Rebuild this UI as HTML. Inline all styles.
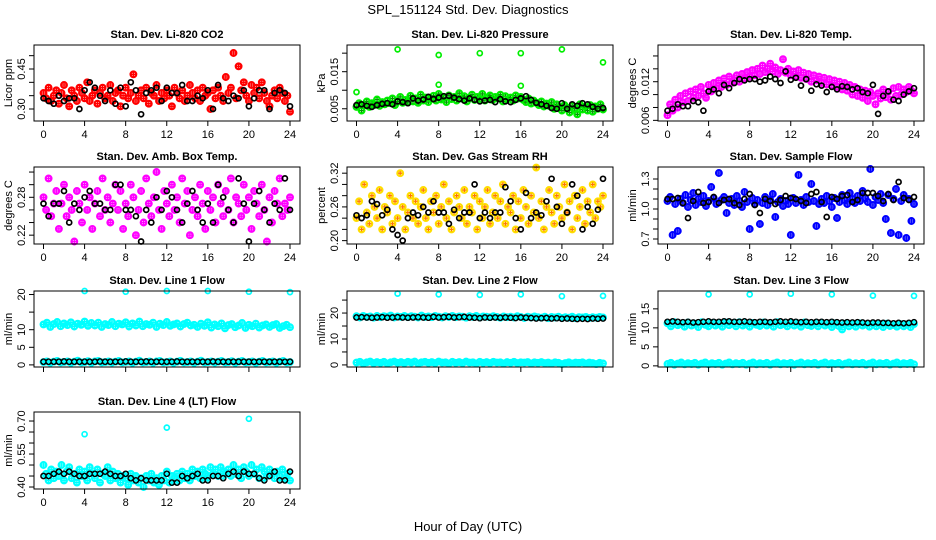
<!DOCTYPE html>
<html><head><meta charset="utf-8"><style>
html,body{margin:0;padding:0;background:#fff;}
svg{display:block;font-family:"Liberation Sans",Arial,sans-serif;}
</style></head><body>
<svg id="chart" width="936" height="540" viewBox="0 0 936 540" xmlns="http://www.w3.org/2000/svg">
<rect x="0" y="0" width="936" height="540" fill="#fff"/>
<text x="468" y="14" text-anchor="middle" font-size="13">SPL_151124  Std. Dev. Diagnostics</text>
<text x="468" y="531" text-anchor="middle" font-size="13">Hour of Day (UTC)</text>
</svg>
<script>
// ---- data ----
const co2 = [0.36,0.34,0.38,0.33,0.35,0.37,0.32,0.36,0.39,0.34,0.31,0.37,0.35,0.33,0.38,0.36,0.34,0.40,0.33,0.35,0.37,0.32,0.36,0.38,0.34,0.35,0.39,0.33,0.36,0.37,0.31,0.35,0.38,0.34,0.36,0.43,0.33,0.35,0.37,0.34,0.38,0.32,0.36,0.35,0.39,0.33,0.36,0.34,0.37,0.35,0.31,0.38,0.36,0.34,0.37,0.33,0.35,0.39,0.36,0.34,0.37,0.33,0.38,0.35,0.36,0.30,0.37,0.34,0.38,0.35,0.33,0.42,0.36,0.38,0.51,0.34,0.46,0.37,0.40,0.35,0.33,0.39,0.36,0.38,0.34,0.40,0.36,0.33,0.31,0.35,0.37,0.34,0.38,0.36,0.33,0.35,0.29];
const co2Black = [0.34,0.33,0.32,0.35,0.33,0.34,0.34,0.30,0.37,0.40,0.38,0.35,0.33,0.37,0.32,0.38,0.31,0.40,0.37,0.28,0.36,0.37,0.38,0.33,0.38,0.36,0.36,0.39,0.33,0.33,0.35,0.34,0.37,0.30,0.39,0.34,0.33,0.35,0.34,0.37,0.31,0.34,0.37,0.37,0.30,0.36,0.37,0.36,0.31];
const pres = [0.0055,0.0065,0.0045,0.006,0.007,0.0055,0.0065,0.006,0.0075,0.0058,0.0068,0.0062,0.0072,0.0065,0.0078,0.006,0.007,0.0082,0.0066,0.0074,0.0068,0.0085,0.007,0.0078,0.0066,0.0088,0.0072,0.008,0.0068,0.0076,0.0085,0.0072,0.009,0.0075,0.008,0.0068,0.0086,0.0076,0.0082,0.0072,0.0092,0.0078,0.0084,0.007,0.008,0.0088,0.0074,0.0082,0.0076,0.009,0.0072,0.008,0.0086,0.0074,0.0082,0.0078,0.0088,0.007,0.0084,0.0076,0.008,0.0072,0.0086,0.0078,0.0082,0.0074,0.0068,0.0078,0.0064,0.0072,0.0066,0.006,0.007,0.0056,0.0064,0.0058,0.0068,0.005,0.0062,0.0055,0.0045,0.006,0.0052,0.004,0.0058,0.005,0.0035,0.0062,0.0048,0.0055,0.0045,0.006,0.0042,0.0056,0.005,0.0062,0.0048];
const presBlack = [0.006,0.0062,0.0058,0.0055,0.006,0.0063,0.0065,0.0062,0.007,0.0068,0.0065,0.0078,0.0072,0.0075,0.0082,0.0076,0.008,0.0084,0.0085,0.008,0.0076,0.0072,0.0078,0.0074,0.007,0.0072,0.0074,0.0068,0.0076,0.007,0.0068,0.0074,0.0078,0.0084,0.0074,0.0066,0.0062,0.0058,0.0052,0.005,0.0065,0.005,0.0062,0.0058,0.0065,0.0062,0.0055,0.005,0.0052];
const presOutHours = [0,4,8,8,12,16,16,20,24];
const presOut = [0.0095,0.021,0.0195,0.0115,0.020,0.020,0.0112,0.021,0.0175];
const temp = [0.0068,0.0085,0.0075,0.0092,0.0080,0.0098,0.0088,0.0102,0.0090,0.0105,0.0095,0.0108,0.0098,0.0112,0.0102,0.0095,0.0115,0.0105,0.0118,0.0110,0.0122,0.0112,0.0125,0.0115,0.0128,0.0118,0.0122,0.0130,0.0120,0.0132,0.0125,0.0135,0.0128,0.0138,0.0130,0.0140,0.0132,0.0145,0.0135,0.0140,0.0148,0.0136,0.0142,0.0132,0.0138,0.0155,0.0134,0.0140,0.0130,0.0136,0.0128,0.0138,0.0126,0.0134,0.0124,0.0132,0.0120,0.0130,0.0122,0.0128,0.0118,0.0126,0.0116,0.0124,0.0114,0.0122,0.0112,0.0120,0.0108,0.0118,0.0106,0.0115,0.0100,0.0112,0.0098,0.0108,0.0095,0.0106,0.0090,0.0104,0.0098,0.0085,0.0102,0.0094,0.0108,0.0096,0.0104,0.0092,0.0110,0.0098,0.0112,0.0100,0.0108,0.0104,0.0112,0.0106,0.0102];
const tempBlack = [0.0075,0.0078,0.0085,0.0082,0.0082,0.0090,0.0088,0.0075,0.0105,0.0108,0.0102,0.0115,0.0110,0.0118,0.0124,0.0122,0.0124,0.0124,0.0120,0.0122,0.0128,0.0124,0.0118,0.0136,0.0123,0.0126,0.0114,0.0124,0.0106,0.0116,0.0114,0.0104,0.0112,0.0108,0.0113,0.0112,0.0108,0.0110,0.0104,0.0102,0.0115,0.0070,0.0098,0.0105,0.0092,0.0090,0.0100,0.0105,0.0110];
const amb = [0.28,0.26,0.31,0.25,0.27,0.29,0.23,0.27,0.30,0.25,0.28,0.26,0.21,0.29,0.27,0.24,0.30,0.26,0.28,0.23,0.27,0.29,0.25,0.31,0.26,0.28,0.24,0.27,0.30,0.26,0.29,0.23,0.27,0.25,0.30,0.28,0.22,0.26,0.29,0.24,0.31,0.27,0.25,0.28,0.32,0.26,0.23,0.29,0.27,0.25,0.30,0.26,0.28,0.24,0.31,0.27,0.29,0.22,0.26,0.28,0.25,0.30,0.27,0.23,0.29,0.26,0.28,0.24,0.30,0.27,0.25,0.29,0.26,0.31,0.24,0.28,0.27,0.25,0.30,0.26,0.28,0.23,0.29,0.27,0.25,0.30,0.26,0.21,0.28,0.24,0.29,0.27,0.31,0.25,0.27,0.26,0.28];
const ambBlack = [0.27,0.25,0.27,0.27,0.29,0.24,0.27,0.26,0.28,0.29,0.27,0.27,0.26,0.26,0.30,0.30,0.26,0.26,0.25,0.21,0.26,0.24,0.28,0.26,0.29,0.28,0.26,0.24,0.27,0.29,0.26,0.24,0.27,0.24,0.30,0.28,0.26,0.24,0.31,0.27,0.21,0.27,0.29,0.26,0.24,0.27,0.26,0.31,0.26];
const rh = [0.24,0.27,0.22,0.30,0.25,0.23,0.28,0.26,0.24,0.29,0.22,0.26,0.25,0.28,0.23,0.27,0.24,0.32,0.26,0.22,0.25,0.28,0.24,0.27,0.23,0.26,0.29,0.24,0.22,0.27,0.25,0.28,0.23,0.26,0.30,0.24,0.27,0.22,0.25,0.28,0.26,0.24,0.29,0.23,0.26,0.25,0.28,0.22,0.27,0.24,0.26,0.29,0.23,0.25,0.28,0.24,0.27,0.30,0.23,0.26,0.25,0.28,0.22,0.27,0.24,0.29,0.26,0.23,0.28,0.25,0.33,0.24,0.27,0.22,0.26,0.29,0.25,0.23,0.28,0.26,0.24,0.30,0.25,0.27,0.22,0.28,0.24,0.26,0.29,0.23,0.27,0.25,0.30,0.24,0.27,0.26,0.28];
const rhBlack = [0.245,0.24,0.245,0.27,0.265,0.245,0.255,0.22,0.21,0.20,0.24,0.25,0.245,0.26,0.25,0.27,0.25,0.25,0.23,0.255,0.24,0.25,0.25,0.30,0.24,0.25,0.24,0.25,0.25,0.295,0.27,0.24,0.22,0.285,0.24,0.25,0.245,0.27,0.31,0.26,0.23,0.25,0.30,0.28,0.22,0.26,0.23,0.255,0.31];
const sf = [1.08,1.12,0.74,1.05,0.78,1.10,1.06,1.14,1.02,1.09,1.16,1.04,1.10,1.07,1.13,1.03,1.08,1.22,1.11,1.05,1.36,1.09,1.12,0.96,1.06,1.10,1.04,1.13,1.08,1.02,1.17,1.07,0.80,1.11,1.05,1.09,0.85,1.06,1.12,1.04,1.09,1.15,0.92,1.07,1.10,1.03,1.08,1.05,0.74,1.11,1.06,1.34,1.09,1.04,1.12,1.07,1.25,1.08,0.83,1.05,1.10,1.06,1.13,1.08,1.02,1.11,0.91,1.07,1.14,1.09,1.05,1.16,1.10,1.06,1.13,1.08,1.18,1.11,1.07,1.40,1.04,1.12,1.09,1.15,1.06,0.90,1.14,0.76,1.10,1.20,0.74,1.08,1.14,0.71,1.10,0.88,1.05];
const sfBlack = [1.10,1.10,1.11,1.06,0.91,1.08,1.17,1.06,1.07,1.12,1.06,1.09,1.10,1.06,1.04,1.10,1.15,1.04,0.96,1.10,1.08,1.05,1.09,1.13,1.11,1.10,1.08,1.06,1.15,1.17,1.07,0.92,1.12,1.10,1.13,1.14,1.07,1.09,1.16,1.16,1.16,1.13,1.08,1.15,1.09,1.27,1.11,1.09,1.12];
const l1Hi = [11.5,12.0,10.8,11.6,12.2,11.0,11.8,11.3,12.1,10.9,11.7,11.4,12.3,11.1,11.9,11.2,12.0,10.8,11.6,11.3,12.2,11.0,11.7,11.5,12.1,10.9,11.8,11.2,12.3,11.0,11.6,11.4,12.0,10.8,11.7,11.3,12.2,11.1,11.5,11.8,10.9,11.6,12.0,11.2,11.4,10.8,11.7,11.1,12.1,10.6,11.5,11.0,11.8,10.4,11.3,11.6,10.7,11.2,11.9,10.5,11.4,11.0,11.7,10.6,11.2,11.5,10.8,11.3,11.6,10.5,11.0,11.4,10.7];
const l1Lo = [0.8,1.0,0.6,0.9,1.1,0.7,0.85,1.0,0.6,0.9,1.2,0.7,0.8,1.05,0.6,0.95,1.1,0.7,0.8,1.0,0.65,0.9,1.1,0.7,0.85,1.0,0.6,0.9,1.2,0.7,0.8,1.0,0.6,0.95,1.1,0.7,0.8,1.0,0.6,0.9,1.15,0.7,0.8,1.0,0.6,0.9,1.2,0.7,0.8,1.0,0.65,0.9,1.1,0.7,0.8,1.05,0.6,0.9,1.1,0.7,0.8,1.0,0.6,0.9,1.1,0.7,0.85,1.0,0.6,0.9,1.1,0.7,0.8];
const l1Black = [0.9,0.9,0.9,0.9,0.95,0.9,0.9,0.9,0.92,0.9,0.9,0.95,0.9,0.9,0.9,0.92,0.95,0.9,0.9,0.9,0.95,0.9,0.92,0.9,0.9,0.9,0.95,0.9,0.9,0.92,0.9,0.9,0.9,0.95,0.9,0.9,0.9,0.92,0.9,0.9,0.9,0.88,0.9,0.9,0.88,0.9,0.9,0.88,0.9];
const outHours = [4,8,12,16,20,24];
const l1Out = [21.0,20.8,21.0,21.0,20.8,20.7];
const l2Hi = [18.8,18.3,18.9,18.5,18.7,18.2,18.9,18.4,18.8,18.6,19.0,18.3,18.7,18.5,18.9,18.4,18.8,18.6,18.3,19.0,18.5,18.7,18.4,18.9,18.6,18.3,18.8,18.5,18.9,18.4,18.7,18.6,18.2,18.8,18.5,18.9,18.3,18.7,18.6,18.4,18.8,18.5,18.2,18.7,18.4,18.6,18.3,18.8,18.5,18.1,18.6,18.3,18.7,18.4,18.2,18.6,18.0,18.5,18.3,18.6,18.1,18.4,18.2,18.6,18.0,18.4,18.3,18.5,18.1,18.4,18.2,18.5,18.3];
const l2Lo = [0.9,1.2,0.6,1.0,1.3,0.7,1.1,0.8,1.2,0.6,1.0,1.3,0.8,1.1,0.7,1.2,0.9,1.3,0.6,1.0,1.2,0.8,1.1,0.7,1.3,0.9,1.0,0.6,1.2,0.8,1.1,0.7,1.3,0.9,1.0,0.6,1.2,0.8,1.1,0.7,1.2,0.9,1.0,0.6,1.1,0.8,1.2,0.7,1.0,0.9,1.1,0.6,1.0,0.8,1.1,0.7,0.9,0.6,1.0,0.8,0.3,0.7,1.0,0.6,0.9,0.8,1.0,0.5,0.9,0.7,0.3,0.8,0.6];
const l2Black = [18.3,18.4,18.3,18.2,18.3,18.4,18.2,18.3,18.4,18.3,18.2,18.3,18.4,18.3,18.2,18.5,18.3,18.4,18.5,18.3,18.4,18.5,18.3,18.2,18.0,18.3,18.2,18.3,18.2,18.3,18.2,18.1,18.3,18.2,18.1,17.9,18.0,18.1,17.9,18.0,17.8,17.9,17.8,17.7,17.8,17.7,17.9,17.8,17.9];
const l2Out = [27.5,27.2,27.0,27.2,26.5,26.6];
const l3Hi = [11.2,10.4,11.5,10.7,11.0,10.3,11.4,10.6,11.1,10.2,11.5,10.8,10.4,11.3,10.6,11.0,10.3,11.4,10.7,11.2,10.4,11.5,10.6,11.0,10.3,11.3,10.8,10.5,11.4,10.6,11.1,10.3,11.5,10.7,11.0,10.4,11.3,10.6,11.2,10.3,11.4,10.7,10.5,11.1,10.4,11.3,10.6,11.0,10.2,11.2,10.5,9.6,11.1,10.4,11.0,10.3,11.2,10.6,10.9,10.3,11.1,10.4,11.0,10.2,11.1,10.5,10.8,10.3,11.0,10.4,10.9,10.2,11.0];
const l3Lo = [0.5,0.8,0.3,0.6,0.9,0.4,0.7,0.5,0.8,0.3,0.6,0.9,0.4,0.7,0.5,0.8,0.3,0.6,0.9,0.4,0.7,0.5,0.8,0.3,0.6,0.9,0.4,0.7,0.5,0.8,0.3,0.6,0.9,0.4,0.7,0.5,0.8,0.3,0.6,0.9,0.4,0.7,0.5,0.8,0.3,0.6,0.9,0.4,0.7,0.5,0.8,0.3,0.6,0.9,0.4,0.7,0.5,0.8,0.3,0.6,0.9,0.4,0.7,0.5,0.8,0.3,0.6,0.9,0.4,0.7,0.5,0.8,0.4];
const l3Black = [11.6,11.7,11.6,11.5,11.6,11.4,11.5,11.6,11.7,11.6,11.6,11.7,11.7,11.6,11.6,11.7,11.6,11.5,11.6,11.6,11.5,11.6,11.7,11.6,11.7,11.6,11.5,11.6,11.5,11.6,11.6,11.5,11.6,11.5,11.4,11.5,11.4,11.5,11.4,11.3,11.4,11.4,11.3,11.3,11.2,11.3,11.2,11.3,11.5];
const l3Out = [18.8,18.8,19.0,18.8,18.5,18.4];
const l4 = [0.50,0.46,0.43,0.48,0.44,0.47,0.45,0.50,0.43,0.47,0.49,0.44,0.46,0.42,0.48,0.45,0.47,0.43,0.49,0.46,0.44,0.48,0.42,0.46,0.45,0.49,0.43,0.47,0.44,0.46,0.42,0.45,0.44,0.41,0.46,0.43,0.45,0.42,0.44,0.40,0.45,0.43,0.46,0.42,0.44,0.41,0.45,0.43,0.47,0.42,0.45,0.44,0.46,0.43,0.47,0.44,0.46,0.43,0.48,0.45,0.47,0.44,0.48,0.46,0.45,0.49,0.46,0.48,0.45,0.49,0.47,0.46,0.48,0.45,0.50,0.46,0.48,0.44,0.49,0.47,0.45,0.50,0.46,0.48,0.44,0.49,0.47,0.45,0.48,0.46,0.44,0.47,0.45,0.48,0.44,0.46,0.43];
const l4Black = [0.45,0.45,0.46,0.47,0.46,0.47,0.46,0.45,0.45,0.46,0.46,0.46,0.47,0.46,0.45,0.45,0.46,0.44,0.43,0.44,0.43,0.43,0.43,0.43,0.46,0.42,0.42,0.45,0.44,0.45,0.46,0.43,0.43,0.45,0.45,0.44,0.46,0.47,0.45,0.47,0.46,0.46,0.44,0.43,0.45,0.47,0.43,0.43,0.47];
const l4Out = [0.64,0.67,0.71];
const l4OutHours = [4,12,20];

// ---- layout ----
const colL = [34, 347, 658];
const BOXW = 266;
const rowT = [45, 167, 291, 412];
const rowB = [121, 244, 367, 489];
const svg = document.getElementById('chart');
const NS = 'http://www.w3.org/2000/svg';
function mk(tag, attrs, parent){const e=document.createElementNS(NS,tag);for(const k in attrs)e.setAttribute(k,attrs[k]);(parent||svg).appendChild(e);return e;}

function panel(cfg){
  const L=colL[cfg.col], R=L+BOXW, T=rowT[cfg.row], B=rowB[cfg.row];
  const g=mk('g',{});
  
  
  const xs=h=>L+9.5+h*(246.5/24);
  const ys=v=>B-(v-cfg.ylim[0])/(cfg.ylim[1]-cfg.ylim[0])*(B-T);
  const t=mk('text',{x:(L+R)/2,y:T-7,'text-anchor':'middle','font-size':11,'font-weight':'bold'},g);
  t.textContent=cfg.title;
  
  
  const pts=mk('g',{},g);
  
  
  function series(s){
    const arr=s.data, n=arr.length;
    const big=!s.thin;
    arr.forEach((v,i)=>{
      const h=s.hours?s.hours[i]:i*24/(n-1);
      const x=xs(h), y=ys(v);
      const c=mk('circle',{cx:x.toFixed(1),cy:y.toFixed(1),r:big?2.8:2.5,fill:'none',stroke:s.color,'stroke-width':big?2.3:1.7},pts);
      
      
      if(s.cross){
        const p=mk('path',{d:`M${x-2} ${y}H${x+2}M${x} ${y-2}V${y+2}`,stroke:s.cross,'stroke-width':1.3},pts);
        
        
      }
    });
  }
  cfg.series.forEach(series);
  const bx=mk('rect',{x:L,y:T,width:BOXW,height:B-T,fill:'none',stroke:'#000','stroke-width':1},g);
  
  
  const xa=mk('g',{},g);
  
  
  mk('line',{x1:xs(0),x2:xs(24),y1:B,y2:B,stroke:'#000'},xa);
  [0,4,8,12,16,20,24].forEach(h=>{
    mk('line',{x1:xs(h),x2:xs(h),y1:B,y2:B+5,stroke:'#000'},xa);
    if(cfg.xlabels){const tx=mk('text',{x:xs(h),y:B+17,'text-anchor':'middle','font-size':11},xa);tx.textContent=h;}
  });
  const ya=mk('g',{},g);
  
  
  mk('line',{x1:L,x2:L,y1:ys(cfg.ticks[0]),y2:ys(cfg.ticks[cfg.ticks.length-1]),stroke:'#000'},ya);
  cfg.ticks.forEach((v,i)=>{
    const y=ys(v);
    mk('line',{x1:L-5,x2:L,y1:y,y2:y,stroke:'#000'},ya);
    if(cfg.labels[i]){
      const tx=mk('text',{x:L-9,y:y,'text-anchor':'middle','font-size':11,transform:`rotate(-90 ${L-9} ${y})`},ya);
      tx.textContent=cfg.labels[i];
    }
  });
  const yt=mk('text',{x:L-22,y:(T+B)/2,'text-anchor':'middle','font-size':11,transform:`rotate(-90 ${L-22} ${(T+B)/2})`},g);
  yt.textContent=cfg.ylab;
  
  
}

const RED='#ff0000',GRN='#00ee00',MAG='#ff00ff',BLU='#0000ff',CYN='#00ffff',BLK='#000';
panel({name:'panel-co2',col:0,row:0,title:'Stan. Dev. Li-820 CO2',ylab:'Licor ppm',ylim:[0.255,0.54],
  ticks:[0.30,0.35,0.40,0.45,0.50],labels:['0.30','','','0.45',''],xlabels:true,
  series:[{data:co2,color:RED,cross:RED},{data:co2Black,color:BLK,thin:true}]});
panel({name:'panel-pressure',col:1,row:0,title:'Stan. Dev. Li-820 Pressure',ylab:'kPa',ylim:[0.0017,0.0222],
  ticks:[0.005,0.010,0.015,0.020],labels:['0.005','','0.015',''],xlabels:true,
  series:[{data:pres,color:GRN,cross:'#009900'},{data:presOut,hours:presOutHours,color:GRN,thin:true},{data:presBlack,color:BLK,thin:true}]});
panel({name:'panel-temp',col:2,row:0,title:'Stan. Dev. Li-820 Temp.',ylab:'degrees C',ylim:[0.0059,0.0177],
  ticks:[0.006,0.008,0.010,0.012,0.014,0.016],labels:['0.006','','','0.012','',''],xlabels:true,
  series:[{data:temp,color:MAG,cross:MAG},{data:tempBlack,color:BLK,thin:true}]});
panel({name:'panel-amb-temp',col:0,row:1,title:'Stan. Dev. Amb. Box Temp.',ylab:'degrees C',ylim:[0.206,0.328],
  ticks:[0.22,0.24,0.26,0.28,0.30,0.32],labels:['0.22','','','0.28','',''],xlabels:true,
  series:[{data:amb,color:MAG,cross:MAG},{data:ambBlack,color:BLK,thin:true}]});
panel({name:'panel-rh',col:1,row:1,title:'Stan. Dev. Gas Stream RH',ylab:'percent',ylim:[0.194,0.331],
  ticks:[0.20,0.22,0.24,0.26,0.28,0.30,0.32],labels:['0.20','','','0.26','','','0.32'],xlabels:true,
  series:[{data:rh,color:'#ffdd00',cross:'#ff7700'},{data:rhBlack,color:BLK,thin:true}]});
panel({name:'panel-sample-flow',col:2,row:1,title:'Stan. Dev. Sample Flow',ylab:'ml/min',ylim:[0.65,1.42],
  ticks:[0.7,0.8,0.9,1.0,1.1,1.2,1.3],labels:['0.7','','','1.0','','','1.3'],xlabels:true,
  series:[{data:sf,color:BLU,cross:BLU},{data:sfBlack,color:BLK,thin:true}]});
panel({name:'panel-line1',col:0,row:2,title:'Stan. Dev. Line 1 Flow',ylab:'ml/min',ylim:[-0.6,21],
  ticks:[0,5,10,15,20],labels:['0','5','10','','20'],xlabels:false,
  series:[{data:l1Hi,color:CYN,cross:CYN},{data:l1Lo,color:CYN,cross:CYN},{data:l1Out,hours:outHours,color:CYN,thin:true},{data:l1Black,color:BLK,cross:CYN,thin:true}]});
panel({name:'panel-line2',col:1,row:2,title:'Stan. Dev. Line 2 Flow',ylab:'ml/min',ylim:[-0.8,28.5],
  ticks:[0,5,10,15,20,25],labels:['0','','10','','20',''],xlabels:false,
  series:[{data:l2Hi,color:CYN,cross:CYN},{data:l2Lo,color:CYN,cross:CYN},{data:l2Out,hours:outHours,color:CYN,thin:true},{data:l2Black,color:BLK,cross:CYN,thin:true}]});
panel({name:'panel-line3',col:2,row:2,title:'Stan. Dev. Line 3 Flow',ylab:'ml/min',ylim:[-0.3,19.7],
  ticks:[0,5,10,15],labels:['0','5','10','15'],xlabels:false,
  series:[{data:l3Hi,color:CYN,cross:CYN},{data:l3Lo,color:CYN,cross:CYN},{data:l3Out,hours:outHours,color:CYN,thin:true},{data:l3Black,color:BLK,cross:CYN,thin:true}]});
panel({name:'panel-line4',col:0,row:3,title:'Stan. Dev. Line 4 (LT) Flow',ylab:'ml/min',ylim:[0.391,0.741],
  ticks:[0.40,0.45,0.50,0.55,0.60,0.65,0.70],labels:['0.40','','','0.55','','','0.70'],xlabels:true,
  series:[{data:l4,color:CYN,cross:CYN},{data:l4Out,hours:l4OutHours,color:CYN,thin:true},{data:l4Black,color:BLK,cross:CYN,thin:true}]});
</script>
</body></html>
